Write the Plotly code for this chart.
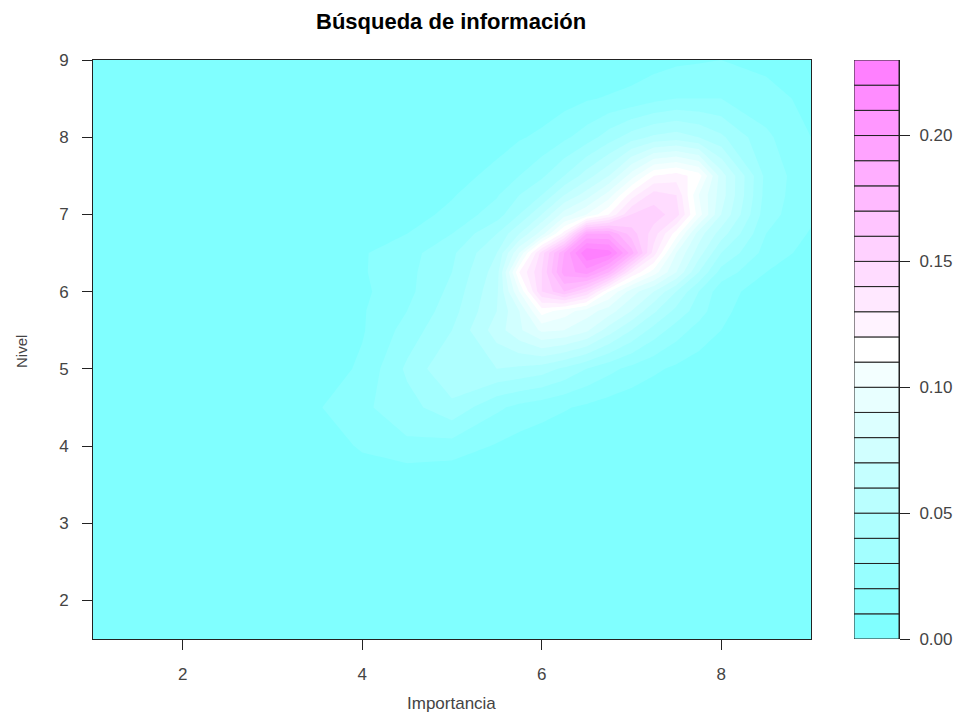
import plotly.graph_objects as go

title = "Búsqueda de información"
x_label = "Importancia"
y_label = "Nivel"

importancia = [1, 1.5, 2, 2.5, 3, 3.5, 4, 4.5, 5, 5.5, 5.75, 6, 6.25, 6.5, 6.75, 7, 7.25, 7.5, 7.75, 8, 8.5, 9]
nivel = [1.5, 2, 2.5, 3, 3.5, 4, 4.5, 5, 5.5, 5.75, 6, 6.25, 6.5, 6.75, 7, 7.25, 7.5, 8, 8.5, 9]

left_zeros = [0, 0, 0, 0, 0]
densidad = [
    [0] * 22,
    [0] * 22,
    [0] * 22,
    [0] * 22,
    [0] * 22,
    left_zeros + [.001, .012, .018, .016, .009, .006, .004, .002, .001, 0, 0, 0, 0, 0, 0, 0, 0],
    left_zeros + [.009, .018, .026, .037, .022, .017, .014, .011, .008, .005, .003, .001, 0, 0, 0, 0, 0],
    left_zeros + [.003, .012, .032, .050, .050, .048, .045, .038, .030, .023, .017, .012, .008, .005, .002, 0, 0],
    left_zeros + [.002, .009, .024, .040, .065, .078, .092, .090, .082, .065, .050, .036, .025, .016, .010, .003, 0],
    left_zeros + [.001, .009, .020, .036, .060, .080, .115, .105, .095, .085, .070, .052, .037, .025, .012, .004, 0],
    left_zeros + [.001, .008, .017, .033, .058, .100, .150, .170, .150, .110, .085, .070, .050, .030, .014, .005, .001],
    left_zeros + [.001, .009, .017, .030, .055, .120, .150, .195, .205, .180, .130, .105, .080, .050, .026, .010, .003],
    left_zeros + [.001, .009, .016, .028, .050, .090, .145, .190, .230, .225, .185, .135, .090, .065, .040, .016, .006],
    left_zeros + [0, .005, .010, .020, .040, .060, .085, .125, .190, .190, .165, .145, .115, .075, .055, .020, .009],
    left_zeros + [0, .002, .005, .013, .025, .040, .060, .085, .100, .120, .150, .155, .145, .105, .070, .024, .012],
    left_zeros + [0, 0, .002, .009, .019, .030, .040, .060, .075, .095, .125, .145, .140, .100, .075, .026, .012],
    left_zeros + [0, 0, 0, .006, .013, .020, .028, .040, .055, .070, .095, .120, .125, .115, .075, .027, .012],
    left_zeros + [0, 0, 0, .001, .006, .009, .012, .018, .025, .035, .045, .052, .055, .050, .042, .022, .010],
    left_zeros + [0, 0, 0, 0, 0, .001, .004, .006, .009, .011, .013, .017, .020, .020, .020, .014, .007],
    left_zeros + [0, 0, 0, 0, 0, 0, 0, 0, .001, .002, .004, .006, .008, .009, .010, .007, .003],
]

level_base = [i / 100 for i in range(23)]
level_size = [0.01] * 23
x_ticks = [2, 4, 6, 8]
y_ticks = [2, 3, 4, 5, 6, 7, 8, 9]
bar_ticks = [0.0, 0.05, 0.10, 0.15, 0.20]


def band_colour(i, n=23):
    mid = (n - 1) / 2
    if i <= mid:
        t = i / mid
        return f"rgb({round(128 + 127 * t)},255,255)"
    t = (i - mid) / mid
    return f"rgb(255,{round(255 - 127 * t)},255)"


band_colours = [band_colour(i) for i in range(23)]
ink = "#222222"
text_col = "#444444"
font = "Liberation Sans, Arial, sans-serif"
W, H = 957, 715

fig = go.Figure()
fig.add_trace(go.Contour(
    x=importancia, y=nivel, z=densidad,
    autocontour=False,
    contours=dict(start=0.01, end=0.22, size=0.01, coloring="fill", showlines=False),
    line=dict(width=0, smoothing=0),
    colorscale=[[0, "#80FFFF"], [0.5, "#FFFFFF"], [1, "#FF80FF"]],
    zmin=0, zmax=0.23,
    showscale=False, hoverinfo="skip",
))
fig.add_trace(go.Bar(
    x=[0] * 23, y=level_size, base=level_base, width=1,
    marker=dict(color=band_colours, line=dict(color=ink, width=1)),
    xaxis="x2", yaxis="y2", showlegend=False, hoverinfo="skip",
))

axis_font = dict(family=font, size=17, color=text_col)
common = dict(showgrid=False, zeroline=False, ticks="outside", ticklen=10, tickwidth=1,
              tickcolor=ink, linecolor=ink, linewidth=1, tickfont=axis_font)
fig.update_layout(
    width=W, height=H, autosize=False,
    margin=dict(l=0, r=0, t=0, b=0, autoexpand=False),
    paper_bgcolor="white", plot_bgcolor="#80FFFF",
    showlegend=False,
    xaxis=dict(domain=[93 / W, 811 / W], range=[1, 9], tickvals=x_ticks, mirror=True,
               anchor="y", ticklabelstandoff=10, **common),
    yaxis=dict(domain=[1 - 639 / H, 1 - 60 / H], range=[1.5, 9], tickvals=y_ticks, mirror=True,
               anchor="x", ticklabelstandoff=10, **common),
    xaxis2=dict(domain=[854 / W, 899 / W], range=[-0.5, 0.5], visible=False, anchor="y2"),
    yaxis2=dict(domain=[1 - 639 / H, 1 - 60 / H], range=[0, 0.23], tickvals=bar_ticks,
                tickformat=".2f", side="right", anchor="x2", ticklabelstandoff=6, **common),
    annotations=[
        dict(text=f"<b>{title}</b>", x=451 / W, y=1 - 21 / H, xref="paper", yref="paper",
             showarrow=False, xanchor="center", yanchor="middle",
             font=dict(family=font, size=22, color="black")),
        dict(text=x_label, x=451 / W, y=1 - 703 / H, xref="paper", yref="paper",
             showarrow=False, xanchor="center", yanchor="middle",
             font=dict(family=font, size=17, color=text_col)),
        dict(text=y_label, x=21 / W, y=1 - 352 / H, xref="paper", yref="paper", textangle=-90,
             showarrow=False, xanchor="center", yanchor="middle",
             font=dict(family=font, size=15, color=text_col)),
    ],
)

fig.write_html("out.html", post_script="document.body.style.margin='0';",
               config={"displayModeBar": False})
